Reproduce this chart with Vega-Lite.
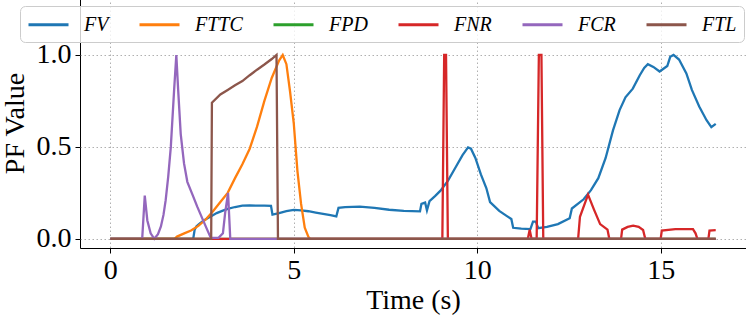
{
  "$schema": "https://vega.github.io/schema/vega-lite/v6.json",
  "width": 666,
  "height": 250,
  "autosize": {"type": "none"},
  "padding": {"left": 80, "top": -2, "right": 0, "bottom": 71},
  "background": "white",
  "config": {
    "view": {"stroke": "black", "strokeWidth": 1},
    "font": "Liberation Serif",
    "legend": {
      "orient": "none",
      "legendX": -60,
      "legendY": 8,
      "direction": "horizontal",
      "columns": 6,
      "symbolType": "M-2,0H2",
      "symbolSize": 400,
      "symbolOffset": 10,
      "symbolStrokeWidth": 3,
      "labelFont": "Liberation Serif",
      "labelFontStyle": "italic",
      "labelFontSize": 20,
      "labelColor": "black",
      "labelOffset": 24,
      "columnPadding": 24,
      "padding": 7,
      "strokeColor": "#cccccc",
      "fillColor": "rgba(255,255,255,0.8)",
      "cornerRadius": 5,
      "gridAlign": "each"
    }
  },
  "data": {
    "values": [
      {"s": "F_V", "t": 0, "v": 0},
      {"s": "F_V", "t": 2.26, "v": 0},
      {"s": "F_V", "t": 2.3, "v": 0.05},
      {"s": "F_V", "t": 2.35, "v": 0.068},
      {"s": "F_V", "t": 2.45, "v": 0.085},
      {"s": "F_V", "t": 2.55, "v": 0.1},
      {"s": "F_V", "t": 2.65, "v": 0.112},
      {"s": "F_V", "t": 2.75, "v": 0.123},
      {"s": "F_V", "t": 2.9, "v": 0.14},
      {"s": "F_V", "t": 3.05, "v": 0.152},
      {"s": "F_V", "t": 3.2, "v": 0.163},
      {"s": "F_V", "t": 3.4, "v": 0.173},
      {"s": "F_V", "t": 3.6, "v": 0.18},
      {"s": "F_V", "t": 3.8, "v": 0.182},
      {"s": "F_V", "t": 4.0, "v": 0.18},
      {"s": "F_V", "t": 4.2, "v": 0.18},
      {"s": "F_V", "t": 4.38, "v": 0.179},
      {"s": "F_V", "t": 4.42, "v": 0.132},
      {"s": "F_V", "t": 4.6, "v": 0.14},
      {"s": "F_V", "t": 4.8, "v": 0.151},
      {"s": "F_V", "t": 5.0, "v": 0.157},
      {"s": "F_V", "t": 5.2, "v": 0.155},
      {"s": "F_V", "t": 5.4, "v": 0.15},
      {"s": "F_V", "t": 5.6, "v": 0.143},
      {"s": "F_V", "t": 5.8, "v": 0.136},
      {"s": "F_V", "t": 6.0, "v": 0.129},
      {"s": "F_V", "t": 6.16, "v": 0.122},
      {"s": "F_V", "t": 6.22, "v": 0.168},
      {"s": "F_V", "t": 6.4, "v": 0.172},
      {"s": "F_V", "t": 6.8, "v": 0.175},
      {"s": "F_V", "t": 7.2, "v": 0.168},
      {"s": "F_V", "t": 7.6, "v": 0.158},
      {"s": "F_V", "t": 8.0, "v": 0.152},
      {"s": "F_V", "t": 8.44, "v": 0.149},
      {"s": "F_V", "t": 8.48, "v": 0.19},
      {"s": "F_V", "t": 8.58, "v": 0.197},
      {"s": "F_V", "t": 8.63, "v": 0.155},
      {"s": "F_V", "t": 8.7, "v": 0.205},
      {"s": "F_V", "t": 8.85, "v": 0.232},
      {"s": "F_V", "t": 9.0, "v": 0.262},
      {"s": "F_V", "t": 9.2, "v": 0.315},
      {"s": "F_V", "t": 9.4, "v": 0.385},
      {"s": "F_V", "t": 9.6, "v": 0.455},
      {"s": "F_V", "t": 9.75, "v": 0.497},
      {"s": "F_V", "t": 9.83, "v": 0.49},
      {"s": "F_V", "t": 9.95, "v": 0.44},
      {"s": "F_V", "t": 10.1, "v": 0.35},
      {"s": "F_V", "t": 10.25, "v": 0.275},
      {"s": "F_V", "t": 10.35, "v": 0.2},
      {"s": "F_V", "t": 10.6, "v": 0.152},
      {"s": "F_V", "t": 10.8, "v": 0.125},
      {"s": "F_V", "t": 10.93, "v": 0.108},
      {"s": "F_V", "t": 10.98, "v": 0.06},
      {"s": "F_V", "t": 11.2, "v": 0.055},
      {"s": "F_V", "t": 11.45, "v": 0.053},
      {"s": "F_V", "t": 11.52, "v": 0.094},
      {"s": "F_V", "t": 11.6, "v": 0.094},
      {"s": "F_V", "t": 11.66, "v": 0.058},
      {"s": "F_V", "t": 11.9, "v": 0.065},
      {"s": "F_V", "t": 12.2, "v": 0.08},
      {"s": "F_V", "t": 12.52, "v": 0.112},
      {"s": "F_V", "t": 12.58, "v": 0.165},
      {"s": "F_V", "t": 12.9, "v": 0.215},
      {"s": "F_V", "t": 13.1, "v": 0.265},
      {"s": "F_V", "t": 13.3, "v": 0.33},
      {"s": "F_V", "t": 13.5, "v": 0.44},
      {"s": "F_V", "t": 13.7, "v": 0.59},
      {"s": "F_V", "t": 13.88, "v": 0.7},
      {"s": "F_V", "t": 14.04, "v": 0.77},
      {"s": "F_V", "t": 14.24, "v": 0.817},
      {"s": "F_V", "t": 14.43, "v": 0.89},
      {"s": "F_V", "t": 14.55, "v": 0.93},
      {"s": "F_V", "t": 14.65, "v": 0.95},
      {"s": "F_V", "t": 14.8, "v": 0.935},
      {"s": "F_V", "t": 14.97, "v": 0.91},
      {"s": "F_V", "t": 15.18, "v": 0.94},
      {"s": "F_V", "t": 15.26, "v": 0.99},
      {"s": "F_V", "t": 15.35, "v": 1.0},
      {"s": "F_V", "t": 15.5, "v": 0.975},
      {"s": "F_V", "t": 15.7, "v": 0.9},
      {"s": "F_V", "t": 15.85, "v": 0.81},
      {"s": "F_V", "t": 16.05, "v": 0.72},
      {"s": "F_V", "t": 16.25, "v": 0.645},
      {"s": "F_V", "t": 16.38, "v": 0.607},
      {"s": "F_V", "t": 16.5, "v": 0.625},

      {"s": "F_TTC", "t": 0, "v": 0},
      {"s": "F_TTC", "t": 1.75, "v": 0},
      {"s": "F_TTC", "t": 1.82, "v": 0.012},
      {"s": "F_TTC", "t": 2.0, "v": 0.028},
      {"s": "F_TTC", "t": 2.2, "v": 0.045},
      {"s": "F_TTC", "t": 2.4, "v": 0.07},
      {"s": "F_TTC", "t": 2.6, "v": 0.105},
      {"s": "F_TTC", "t": 2.8, "v": 0.15},
      {"s": "F_TTC", "t": 3.0, "v": 0.2},
      {"s": "F_TTC", "t": 3.2, "v": 0.25},
      {"s": "F_TTC", "t": 3.4, "v": 0.33},
      {"s": "F_TTC", "t": 3.6, "v": 0.405},
      {"s": "F_TTC", "t": 3.8, "v": 0.49},
      {"s": "F_TTC", "t": 4.0, "v": 0.61},
      {"s": "F_TTC", "t": 4.2, "v": 0.75},
      {"s": "F_TTC", "t": 4.4, "v": 0.875},
      {"s": "F_TTC", "t": 4.6, "v": 0.97},
      {"s": "F_TTC", "t": 4.7, "v": 1.0},
      {"s": "F_TTC", "t": 4.8, "v": 0.95},
      {"s": "F_TTC", "t": 4.9, "v": 0.8},
      {"s": "F_TTC", "t": 5.0, "v": 0.63},
      {"s": "F_TTC", "t": 5.1, "v": 0.37},
      {"s": "F_TTC", "t": 5.2, "v": 0.19},
      {"s": "F_TTC", "t": 5.3, "v": 0.06},
      {"s": "F_TTC", "t": 5.4, "v": 0.01},
      {"s": "F_TTC", "t": 5.45, "v": 0},
      {"s": "F_TTC", "t": 16.5, "v": 0},

      {"s": "F_PD", "t": 0, "v": 0},
      {"s": "F_PD", "t": 16.5, "v": 0},

      {"s": "F_NR", "t": 0, "v": 0},
      {"s": "F_NR", "t": 9.05, "v": 0},
      {"s": "F_NR", "t": 9.1, "v": 1},
      {"s": "F_NR", "t": 9.15, "v": 1},
      {"s": "F_NR", "t": 9.2, "v": 0},
      {"s": "F_NR", "t": 11.38, "v": 0},
      {"s": "F_NR", "t": 11.43, "v": 0.05},
      {"s": "F_NR", "t": 11.48, "v": 0},
      {"s": "F_NR", "t": 11.62, "v": 0},
      {"s": "F_NR", "t": 11.68, "v": 1},
      {"s": "F_NR", "t": 11.75, "v": 1},
      {"s": "F_NR", "t": 11.8, "v": 0},
      {"s": "F_NR", "t": 12.75, "v": 0},
      {"s": "F_NR", "t": 12.8, "v": 0.12},
      {"s": "F_NR", "t": 13.02, "v": 0.24},
      {"s": "F_NR", "t": 13.18, "v": 0.16},
      {"s": "F_NR", "t": 13.35, "v": 0.08},
      {"s": "F_NR", "t": 13.55, "v": 0.05},
      {"s": "F_NR", "t": 13.6, "v": 0},
      {"s": "F_NR", "t": 13.92, "v": 0},
      {"s": "F_NR", "t": 13.95, "v": 0.05},
      {"s": "F_NR", "t": 14.1, "v": 0.065},
      {"s": "F_NR", "t": 14.25, "v": 0.072},
      {"s": "F_NR", "t": 14.4, "v": 0.065},
      {"s": "F_NR", "t": 14.52, "v": 0.048},
      {"s": "F_NR", "t": 14.58, "v": 0},
      {"s": "F_NR", "t": 15.0, "v": 0},
      {"s": "F_NR", "t": 15.03, "v": 0.045},
      {"s": "F_NR", "t": 15.4, "v": 0.053},
      {"s": "F_NR", "t": 15.88, "v": 0.053},
      {"s": "F_NR", "t": 15.95, "v": 0.03},
      {"s": "F_NR", "t": 16.0, "v": 0},
      {"s": "F_NR", "t": 16.3, "v": 0},
      {"s": "F_NR", "t": 16.33, "v": 0.045},
      {"s": "F_NR", "t": 16.5, "v": 0.047},

      {"s": "F_CR", "t": 0, "v": 0},
      {"s": "F_CR", "t": 0.87, "v": 0},
      {"s": "F_CR", "t": 0.94, "v": 0.235},
      {"s": "F_CR", "t": 1.01, "v": 0.1},
      {"s": "F_CR", "t": 1.1, "v": 0.03},
      {"s": "F_CR", "t": 1.2, "v": 0},
      {"s": "F_CR", "t": 1.3, "v": 0.025},
      {"s": "F_CR", "t": 1.38, "v": 0.067},
      {"s": "F_CR", "t": 1.45, "v": 0.13},
      {"s": "F_CR", "t": 1.51, "v": 0.21},
      {"s": "F_CR", "t": 1.58, "v": 0.34},
      {"s": "F_CR", "t": 1.65, "v": 0.5},
      {"s": "F_CR", "t": 1.74, "v": 0.81},
      {"s": "F_CR", "t": 1.8, "v": 1.0},
      {"s": "F_CR", "t": 1.85, "v": 0.81},
      {"s": "F_CR", "t": 1.92, "v": 0.57},
      {"s": "F_CR", "t": 2.01, "v": 0.41},
      {"s": "F_CR", "t": 2.1, "v": 0.31},
      {"s": "F_CR", "t": 2.24, "v": 0.24},
      {"s": "F_CR", "t": 2.37, "v": 0.175},
      {"s": "F_CR", "t": 2.51, "v": 0.11},
      {"s": "F_CR", "t": 2.64, "v": 0.05},
      {"s": "F_CR", "t": 2.74, "v": 0.005},
      {"s": "F_CR", "t": 2.95, "v": 0.005},
      {"s": "F_CR", "t": 3.07, "v": 0.03},
      {"s": "F_CR", "t": 3.13, "v": 0.14},
      {"s": "F_CR", "t": 3.21, "v": 0.25},
      {"s": "F_CR", "t": 3.27, "v": 0},
      {"s": "F_CR", "t": 16.5, "v": 0},

      {"s": "F_TL", "t": 0, "v": 0},
      {"s": "F_TL", "t": 2.75, "v": 0},
      {"s": "F_TL", "t": 2.77, "v": 0.74},
      {"s": "F_TL", "t": 3.0, "v": 0.785},
      {"s": "F_TL", "t": 3.2, "v": 0.81},
      {"s": "F_TL", "t": 3.4, "v": 0.835},
      {"s": "F_TL", "t": 3.6, "v": 0.858},
      {"s": "F_TL", "t": 3.8, "v": 0.89},
      {"s": "F_TL", "t": 4.0, "v": 0.92},
      {"s": "F_TL", "t": 4.2, "v": 0.948},
      {"s": "F_TL", "t": 4.4, "v": 0.978},
      {"s": "F_TL", "t": 4.53, "v": 1.0},
      {"s": "F_TL", "t": 4.57, "v": 0},
      {"s": "F_TL", "t": 16.5, "v": 0}
    ]
  },
  "mark": {"type": "line", "strokeWidth": 2.3, "clip": true},
  "encoding": {
    "x": {
      "field": "t",
      "type": "quantitative",
      "scale": {"domain": [-0.825, 17.325], "nice": false, "zero": false},
      "axis": {
        "values": [0, 5, 10, 15],
        "grid": true,
        "gridColor": "#b0b0b0",
        "gridDash": [1.5, 2.5],
        "gridWidth": 1,
        "domain": false,
        "tickColor": "black",
        "tickSize": 5,
        "tickWidth": 1,
        "labelFont": "Liberation Serif",
        "labelFontSize": 28,
        "labelColor": "black",
        "labelPadding": 3,
        "title": "Time (s)",
        "titleFont": "Liberation Serif",
        "titleFontSize": 28,
        "titleFontWeight": "normal",
        "titleColor": "black",
        "titlePadding": 2
      }
    },
    "y": {
      "field": "v",
      "type": "quantitative",
      "scale": {"domain": [-0.05, 1.31], "nice": false, "zero": false},
      "axis": {
        "values": [0, 0.5, 1],
        "format": ".1f",
        "grid": true,
        "gridColor": "#b0b0b0",
        "gridDash": [1.5, 2.5],
        "gridWidth": 1,
        "domain": false,
        "tickColor": "black",
        "tickSize": 5,
        "tickWidth": 1,
        "labelFont": "Liberation Serif",
        "labelFontSize": 28,
        "labelColor": "black",
        "labelPadding": 4,
        "title": "PF Value",
        "titleFont": "Liberation Serif",
        "titleFontSize": 28,
        "titleFontWeight": "normal",
        "titleColor": "black",
        "titlePadding": 7
      }
    },
    "color": {
      "field": "s",
      "type": "nominal",
      "sort": ["F_V", "F_TTC", "F_PD", "F_NR", "F_CR", "F_TL"],
      "scale": {
        "domain": ["F_V", "F_TTC", "F_PD", "F_NR", "F_CR", "F_TL"],
        "range": ["#1f77b4", "#ff7f0e", "#2ca02c", "#d62728", "#9467bd", "#8c564b"]
      },
      "legend": {"title": null, "labelExpr": "replace(datum.label, '_', '')"}
    }
  }
}
